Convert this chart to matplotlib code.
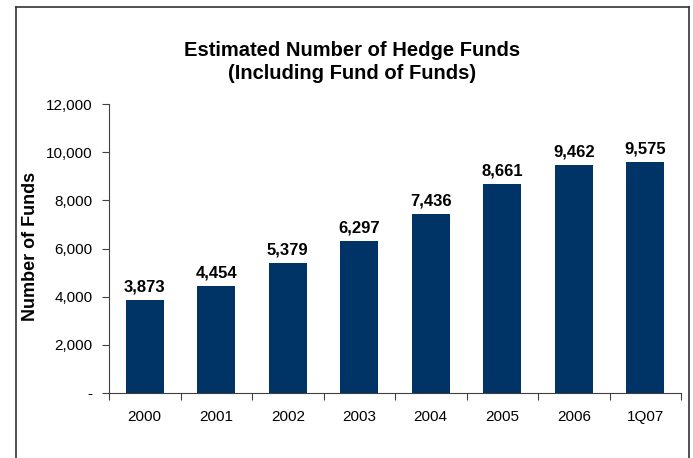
import matplotlib.pyplot as plt
from matplotlib.lines import Line2D
from matplotlib.ticker import FuncFormatter

plt.rcParams['font.family'] = ['Liberation Sans', 'DejaVu Sans']

# data
categories = ['2000', '2001', '2002', '2003', '2004', '2005', '2006', '1Q07']
funds = [3873, 4454, 5379, 6297, 7436, 8661, 9462, 9575]
yticks = [0, 2000, 4000, 6000, 8000, 10000, 12000]

fig = plt.figure(figsize=(6.93, 4.58), dpi=100)
ax = fig.add_axes([109 / 693, 1 - 393 / 458, 572 / 693, 289 / 458])

x = range(len(categories))
bars = ax.bar(x, funds, width=0.53, color='#003366')

for xi, v in zip(x, funds):
    ax.annotate(f'{v:,}', (xi, v), xytext=(0, 4), textcoords='offset points',
                ha='center', va='bottom', fontsize=12, fontweight='bold')

ax.set_xlim(-0.5, len(categories) - 0.5)
ax.set_ylim(0, 12000)
ax.set_yticks(yticks)
ax.yaxis.set_major_formatter(FuncFormatter(lambda v, p: '-' if v == 0 else f'{int(v):,}'))

# tick marks between categories, labels centred under bars
ax.set_xticks([i - 0.5 for i in range(len(categories) + 1)])
ax.set_xticklabels([])
ax.set_xticks(list(x), minor=True)
ax.set_xticklabels(categories, minor=True)
ax.tick_params(axis='x', which='major', length=5, direction='out', color='#404040')
ax.tick_params(axis='x', which='minor', length=0, pad=12, labelsize=11)
ax.tick_params(axis='y', length=5, direction='out', pad=7, labelsize=11, color='#404040')

for s in ['top', 'right']:
    ax.spines[s].set_visible(False)
for s in ['left', 'bottom']:
    ax.spines[s].set_color('#404040')

ax.set_ylabel('Number of Funds', fontsize=13, fontweight='bold')
ax.yaxis.set_label_coords((39 - 109) / 572, 0.507)

fig.text(0.508, 1 - 62 / 458, 'Estimated Number of Hedge Funds\n(Including Fund of Funds)',
         ha='center', va='center', fontsize=14.5, fontweight='bold', linespacing=1.25)

# frame round the slide
W, H = 693, 458
fig.add_artist(Line2D([16 / W, 16 / W], [0, 1 - 7 / H], color='#333333', lw=1.2))
fig.add_artist(Line2D([16 / W, 689 / W], [1 - 7 / H, 1 - 7 / H], color='#333333', lw=1.2))
fig.add_artist(Line2D([689 / W, 689 / W], [0, 1 - 7 / H], color='#333333', lw=1.2))

fig.savefig('out.png', dpi=100)
